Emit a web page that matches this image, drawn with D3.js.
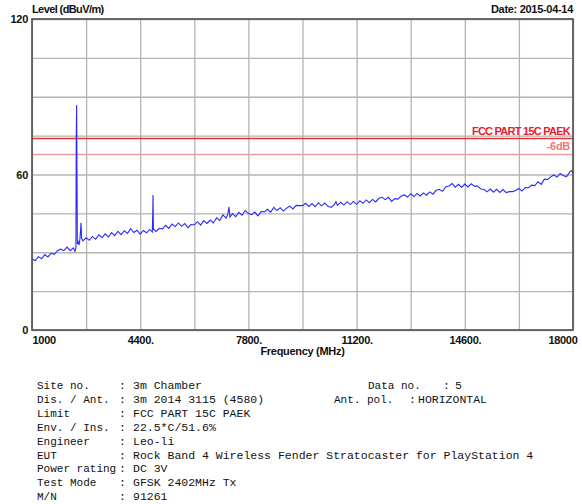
<!DOCTYPE html>
<html><head><meta charset="utf-8">
<script src="https://cdn.jsdelivr.net/npm/d3@7"></script>
<style>
html,body{margin:0;padding:0;background:#fff;}
svg{display:block;}
.lbl{font-family:"Liberation Sans",Arial,sans-serif;font-weight:bold;font-size:11px;fill:#111;letter-spacing:-0.3px;}
.mono{font-family:"Courier New","Liberation Mono",monospace;font-size:11.5px;fill:#111;}
</style></head>
<body>
<svg id="c" width="582" height="504"></svg>
<script>
// ---------- data ----------
const freqs = [1000,1100,1200,1300,1400,1500,1600,1700,1800,1900,2000,2100,2200,2300,2350,2380,
  2390,2402,2415,2425,2450,2480,2510,2540,2560,
  2600,2700,2800,2900,3000,3100,3200,3300,3400,3500,3600,3700,3800,3900,4000,4100,4200,4300,4400,4500,4600,4700,4780,
  4795,4804,4815,
  4900,5000,5100,5200,5300,5400,5500,5600,5700,5800,5900,6000,6100,6200,6300,6400,6500,6600,6700,6800,6900,7000,7100,7150,7190,7220,
  7300,7400,7500,7600,7700,7800,7900,8000,8100,8200,8300,8400,8500,8600,8700,8800,8900,9000,9100,9200,9300,9400,9500,9600,9700,9800,9900,10000,10100,10200,10300,10400,10500,10550,
  10600,10700,10800,10900,11000,11100,11200,11300,11400,11500,11600,11700,11800,11900,12000,12100,12200,12300,12400,12500,12600,12700,12800,12900,13000,13100,13200,13300,13400,13500,13600,13700,13800,13900,14000,14100,14200,14300,14400,14500,14600,14700,14800,14900,15000,15100,15200,15300,15400,15500,15600,15700,15800,15900,16000,16100,16200,16300,16400,16500,16600,16700,16800,16900,17000,17100,17200,17300,17400,17500,17600,17700,17800,17900,17960,18000];
const levels = [27.4,26.8,28.3,27.5,29.1,28.2,29.6,29.2,30.6,31.2,30.6,32.0,30.6,31.7,30.4,31.6,
  73.0,86.8,57.0,33.2,34.0,32.8,35.6,41.4,35.4,
  34.4,35.6,34.6,36.1,35.0,36.7,35.6,37.1,35.9,37.6,36.4,38.1,36.8,38.3,37.3,39.1,37.6,38.5,37.0,38.4,37.5,38.8,37.8,
  45.0,52.1,38.9,
  38.0,39.2,39.0,40.4,39.2,40.9,39.9,41.3,40.0,41.1,39.5,40.7,40.6,41.8,40.5,42.2,41.1,42.4,41.3,43.3,42.3,44.4,43.2,44.5,47.4,43.6,
  44.9,43.7,45.4,44.3,46.1,45.0,44.5,45.5,44.0,45.7,45.6,46.6,45.5,47.3,46.1,47.2,45.9,47.0,47.8,46.7,48.1,48.0,48.0,48.9,47.7,48.8,47.6,49.1,47.9,49.0,47.7,47.3,48.4,49.5,
  48.1,49.3,48.2,49.5,48.4,49.6,48.5,49.9,48.9,50.2,49.1,50.4,49.4,50.8,51.2,50.3,51.2,49.6,50.7,50.5,51.7,52.1,51.3,52.6,51.5,52.7,51.7,52.9,52.0,53.3,52.4,53.9,54.3,53.5,55.2,55.6,56.5,55.1,56.2,55.0,56.3,55.2,56.4,55.5,55.5,54.4,54.3,53.3,54.4,53.2,54.3,53.1,54.2,53.0,53.4,53.4,53.8,54.6,53.6,55.0,54.9,55.9,55.7,57.2,56.2,58.2,58.1,59.1,59.8,59.0,60.4,59.5,59.2,61.0,61.5,60.2];

const limitValues = [74, 68];
const limitNames = ["FCC PART 15C PAEK", "-6dB"];
const xGridTicks = [1000,2700,4400,6100,7800,9500,11200,12900,14600,16300,18000];
const xLabelTicks = [1000,4400,7800,11200,14600,18000];
const xTickLabels = ["1000","4400.","7800.","11200.","14600.","18000"];
const yGridTicks = [0,15,30,45,60,75,90,105,120];
const yLabelTicks = [120,60,0];
const yTickLabels = ["120","60","0"];

const infoLabels = ["Site no.","Dis. / Ant.","Limit","Env. / Ins.","Engineer","EUT","Power rating","Test Mode","M/N"];
const infoValues = ["3m Chamber","3m   2014 3115 (4580)","FCC PART 15C PAEK","22.5*C/51.6%","Leo-li","Rock Band 4 Wireless Fender Stratocaster for PlayStation 4","DC 3V","GFSK 2402MHz Tx","91261"];
const infoRightLabels = ["Data no.","Ant. pol."];
const infoRightValues = ["5","HORIZONTAL"];

// ---------- layout ----------
const L = 32, R = 573, T = 19, B = 330;
const svg = d3.select("#c");
const x = d3.scaleLinear().domain([1000,18000]).range([L,R]);
const y = d3.scaleLinear().domain([0,120]).range([B,T]);

// grid
const gx = svg.append("g").attr("transform",`translate(0,${B})`)
  .call(d3.axisBottom(x).tickValues(xGridTicks).tickSize(-(B-T)).tickFormat(""));
gx.select(".domain").remove();
gx.selectAll("line").attr("stroke","#b4b4b4").attr("stroke-width",1.3);
const gy = svg.append("g").attr("transform",`translate(${L},0)`)
  .call(d3.axisLeft(y).tickValues(yGridTicks).tickSize(-(R-L)).tickFormat(""));
gy.select(".domain").remove();
gy.selectAll("line").attr("stroke","#b4b4b4").attr("stroke-width",1.3);

// limit lines
const limColors = ["#e63434","#f29a9a"];
const labColors = ["#e8202a","#f07878"];
svg.selectAll(".lim").data(limitValues).join("line")
  .attr("x1",L).attr("x2",R).attr("y1",d=>Math.round(y(d))+0.5).attr("y2",d=>Math.round(y(d))+0.5)
  .attr("stroke",(d,i)=>limColors[i]).attr("stroke-width",1.3);
svg.selectAll(".limt").data(limitValues).join("text")
  .attr("class","lbl").attr("x",R-3).attr("y",d=>y(d)-3.5)
  .attr("text-anchor","end").style("fill",(d,i)=>labColors[i])
  .style("letter-spacing",(d,i)=>i===0?"-0.75px":"-0.3px")
  .text((d,i)=>limitNames[i]);

// trace
const pts = freqs.map((f,i)=>[f,levels[i]]);
svg.append("path").datum(pts)
  .attr("fill","none").attr("stroke","#2a2aff").attr("stroke-width",1.1)
  .attr("d",d3.line().x(d=>x(d[0])).y(d=>y(d[1])));

// frame
svg.append("rect").attr("x",L).attr("y",T).attr("width",R-L).attr("height",B-T)
  .attr("fill","none").attr("stroke","#555").attr("stroke-width",1.7);

// x labels
const ax = svg.append("g").attr("transform",`translate(0,${B})`)
  .call(d3.axisBottom(x).tickValues(xLabelTicks).tickSize(0).tickPadding(6)
    .tickFormat((d,i)=>xTickLabels[i]));
ax.select(".domain").remove();
ax.selectAll("text").attr("class","lbl").attr("font-family",null).attr("font-size",null)
  .attr("text-anchor",(d,i)=>i===0?"start":(i===xLabelTicks.length-1?"end":"middle"))
  .attr("dx",(d,i)=>i===xLabelTicks.length-1?4:0);

// y labels
const ay = svg.append("g").attr("transform",`translate(${L},0)`)
  .call(d3.axisLeft(y).tickValues(yLabelTicks).tickSize(0).tickPadding(4)
    .tickFormat((d,i)=>yTickLabels[i]));
ay.select(".domain").remove();
ay.selectAll("text").attr("class","lbl").attr("font-family",null).attr("font-size",null);

// titles
svg.append("text").attr("class","lbl").attr("x",32).attr("y",13).style("letter-spacing","-0.6px").text("Level (dBuV/m)");
svg.append("text").attr("class","lbl").attr("x",R).attr("y",13).attr("text-anchor","end").text("Date: 2015-04-14");
svg.append("text").attr("class","lbl").attr("x",(L+R)/2).attr("y",355).attr("text-anchor","middle").text("Frequency (MHz)");

// info block
const rowY = i => 389 + i*13.9;
const info = svg.append("g");
info.selectAll(".il").data(infoLabels).join("text").attr("class","mono")
  .style("font-size","11px")
  .attr("x",37).attr("y",(d,i)=>rowY(i)).text(d=>d);
info.selectAll(".ic").data(infoLabels).join("text").attr("class","mono")
  .attr("x",119).attr("y",(d,i)=>rowY(i)).text(":");
info.selectAll(".iv").data(infoValues).join("text").attr("class","mono")
  .attr("x",133).attr("y",(d,i)=>rowY(i)).text(d=>d);
const rLabX = [368,334], rColX = [443,409], rValX = [455,418];
info.selectAll(".rl").data(infoRightLabels).join("text").attr("class","mono")
  .style("font-size","11px")
  .attr("x",(d,i)=>rLabX[i]).attr("y",(d,i)=>rowY(i)).text(d=>d);
info.selectAll(".rc").data(infoRightLabels).join("text").attr("class","mono")
  .attr("x",(d,i)=>rColX[i]).attr("y",(d,i)=>rowY(i)).text(":");
info.selectAll(".rv").data(infoRightValues).join("text").attr("class","mono")
  .attr("x",(d,i)=>rValX[i]).attr("y",(d,i)=>rowY(i)).text(d=>d);
</script>
</body></html>
